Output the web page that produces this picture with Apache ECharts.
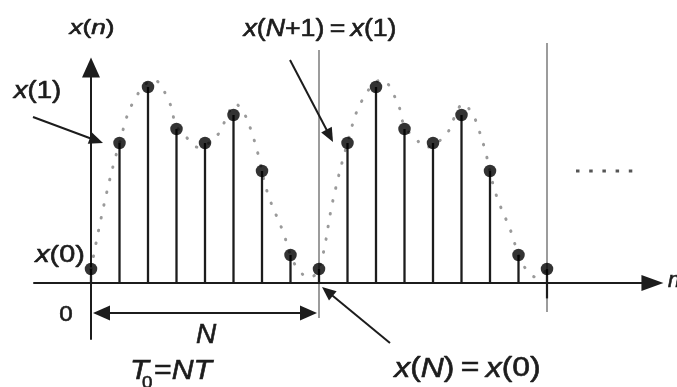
<!DOCTYPE html>
<html>
<head>
<meta charset="utf-8">
<script src="https://cdn.jsdelivr.net/npm/echarts@6/dist/echarts.min.js"></script>
<style>
  html, body { margin: 0; padding: 0; background: #fff; }
  #chart { width: 677px; height: 387px; }
</style>
</head>
<body>
<div id="chart"></div>
<script>
// Period length and one period of the sampled sequence x(n), n = 0 .. N-1
const N = 8;
const periodValues = [0.5, 5, 7, 5.5, 5, 6, 4, 1];

// Continuous envelope over one period (position n, value), drawn dotted
const envelopeN = [0, 0.5, 1, 1.5, 2.2, 2.75, 3, 3.4, 3.75, 4.45, 4.77, 5.05, 5.4, 5.6, 5.85, 6.2, 6.75, 7, 7.3, 7.65];
const envelopeV = [0.5, 3.0, 5.0, 6.5, 7.25, 6.45, 5.6, 5.15, 4.85, 5.3, 5.95, 6.4, 6.0, 5.5, 4.65, 3.2, 1.8, 1.0, 0.45, 0.2];

// Period boundaries marked by vertical guide lines
const periodMarks = [N, 2 * N];

// Two periods of samples: x(n + N) = x(n), closed with x(2N) = x(0)
const stemData = [];
for (let n = 0; n <= 2 * N; n++) stemData.push([n, periodValues[n % N]]);

const envelopeData = [];
for (let k = 0; k < 2; k++) {
  for (let i = 0; i < envelopeN.length; i++) envelopeData.push([envelopeN[i] + k * N, envelopeV[i]]);
}
envelopeData.push([2 * N, periodValues[0]]);

const FONT = "'Liberation Sans', Arial, sans-serif";
const INK = '#1c1c1c';

const chart = echarts.init(document.getElementById('chart'), null, { renderer: 'canvas' });

chart.setOption({
  animation: false,
  backgroundColor: '#fff',
  grid: { left: 34, right: 24.55, top: 67.4, bottom: 48 },
  xAxis: {
    type: 'value', min: -2, max: 19.7,
    axisLine: { onZero: true, symbol: ['none', 'triangle'], symbolSize: [16, 22],
      lineStyle: { color: INK, width: 2 } },
    axisTick: { show: false }, axisLabel: { show: false }, splitLine: { show: false }
  },
  yAxis: {
    type: 'value', min: -2, max: 7.7,
    axisLine: { show: true, onZero: true, symbol: ['none', 'triangle'], symbolSize: [18, 20],
      lineStyle: { color: INK, width: 2 } },
    axisTick: { show: false }, axisLabel: { show: false }, splitLine: { show: false }
  },
  series: [
    {
      name: 'envelope', type: 'line', data: envelopeData, smooth: 0.4,
      showSymbol: false, z: 1,
      lineStyle: { color: '#9a9a9a', width: 3, type: [0.5, 12.5], cap: 'round' }
    },
    {
      name: 'stems', type: 'custom', data: stemData, z: 3,
      renderItem: function (params, api) {
        const p0 = api.coord([api.value(0), 0]);
        const p1 = api.coord([api.value(0), api.value(1)]);
        return { type: 'line', shape: { x1: p0[0], y1: p0[1], x2: p1[0], y2: p1[1] },
          style: { stroke: INK, lineWidth: 2.3 } };
      }
    },
    {
      name: 'samples', type: 'scatter', data: stemData, z: 4,
      symbol: 'circle', symbolSize: 12.5, itemStyle: { color: '#000' }
    }
  ]
});

// ---- annotations ----
const px = (n, v) => chart.convertToPixel({ gridIndex: 0 }, [n, v]);

function arrow(from, tip, len, halfW, width) {
  const dx = tip[0] - from[0], dy = tip[1] - from[1];
  const d = Math.hypot(dx, dy), ux = dx / d, uy = dy / d;
  const base = [tip[0] - ux * len, tip[1] - uy * len];
  return [
    { type: 'line', z: 10, shape: { x1: from[0], y1: from[1], x2: base[0] + ux, y2: base[1] + uy },
      style: { stroke: INK, lineWidth: width || 2 } },
    { type: 'polygon', z: 10, shape: { points: [tip,
        [base[0] - uy * halfW, base[1] + ux * halfW],
        [base[0] + uy * halfW, base[1] - ux * halfW]] },
      style: { fill: INK } }
  ];
}

// glyphs get a thin stroke in the ink colour to give them a slightly heavier weight
function label(x, y, text, size, sx, align) {
  const common = { fontSize: size, fontFamily: FONT, fill: INK, stroke: INK, lineWidth: 0.6 };
  return {
    type: 'text', x: x, y: y, scaleX: sx || 1, z: 10,
    style: {
      text: text, align: align || 'center', verticalAlign: 'middle',
      fill: INK, stroke: INK, lineWidth: 0.6, font: size + 'px ' + FONT,
      rich: {
        i: Object.assign({ fontStyle: 'italic' }, common),
        r: Object.assign({}, common)
      }
    }
  };
}

const g = [];

// vertical guide lines at the period boundaries
const guideTop = [8.32, 8.57], guideBottom = [-1.25, -1.04];
periodMarks.forEach((n, k) => {
  const a = px(n, guideTop[k]), b = px(n, guideBottom[k]);
  g.push({ type: 'line', z: 0, shape: { x1: a[0], y1: a[1], x2: b[0], y2: b[1] },
    style: { stroke: '#9c9c9c', lineWidth: 2 } });
});
// the last stem reaches slightly below the axis
{
  const a = px(2 * N, 0), b = px(2 * N, -0.55);
  g.push({ type: 'line', z: 5, shape: { x1: a[0], y1: a[1], x2: b[0], y2: b[1] },
    style: { stroke: INK, lineWidth: 2.2 } });
}

// N: double arrow spanning one period
{
  const a = px(0, -1.07), b = px(N, -1.07);
  const L = 17, H = 7.5;
  g.push({ type: 'line', z: 10, shape: { x1: a[0] + L, y1: a[1], x2: b[0] - L, y2: b[1] },
    style: { stroke: INK, lineWidth: 2 } });
  g.push({ type: 'polygon', z: 10, shape: { points: [[a[0] + 2, a[1]], [a[0] + 2 + L, a[1] - H], [a[0] + 2 + L, a[1] + H]] }, style: { fill: INK } });
  g.push({ type: 'polygon', z: 10, shape: { points: [[b[0] - 2, b[1]], [b[0] - 2 - L, b[1] - H], [b[0] - 2 - L, b[1] + H]] }, style: { fill: INK } });
}

// pointer arrows
g.push(...arrow([33, 117], [103, 143], 14, 6, 2));
g.push(...arrow([290, 60], [333, 142], 14, 6, 2));
g.push(...arrow([390, 343], [322, 287], 14, 6, 2));

// continuation dots
for (let k = 0; k < 5; k++) {
  g.push({ type: 'rect', z: 10, shape: { x: 576 + k * 13.2, y: 169.5, width: 3.5, height: 3 },
    style: { fill: '#555' } });
}

// text labels
g.push(label(92, 28, '{i|x}{r|(}{i|n}{r|)}', 21, 1.25));
g.push(label(320, 30, '{i|x}{r|(}{i|N}{r|+1)\u2009=\u2009}{i|x}{r|(1)}', 23, 1.16));
g.push(label(37.5, 92, '{i|x}{r|(1)}', 23, 1.2));
g.push(label(60, 255, '{i|x}{r|(0)}', 24, 1.2));
g.push(label(66, 315, '{r|0}', 22, 1.1));
g.push(label(206, 335, '{i|N}', 28, 1.0));
g.push(label(467.5, 369, '{i|x}{r|(}{i|N}{r|)\u2009=\u2009}{i|x}{r|(0)}', 27, 1.18));
g.push(label(668, 281, '{i|n}', 22, 1.0, 'left'));

// T0 = NT
g.push(label(130, 371, '{i|T}', 28, 1.1, 'left'));
g.push(label(142, 383, '{r|0}', 17, 1.1, 'left'));
g.push(label(154, 371, '{r|=}{i|NT}', 28, 1.08, 'left'));

chart.setOption({ graphic: { elements: g } });
</script>
</body>
</html>
